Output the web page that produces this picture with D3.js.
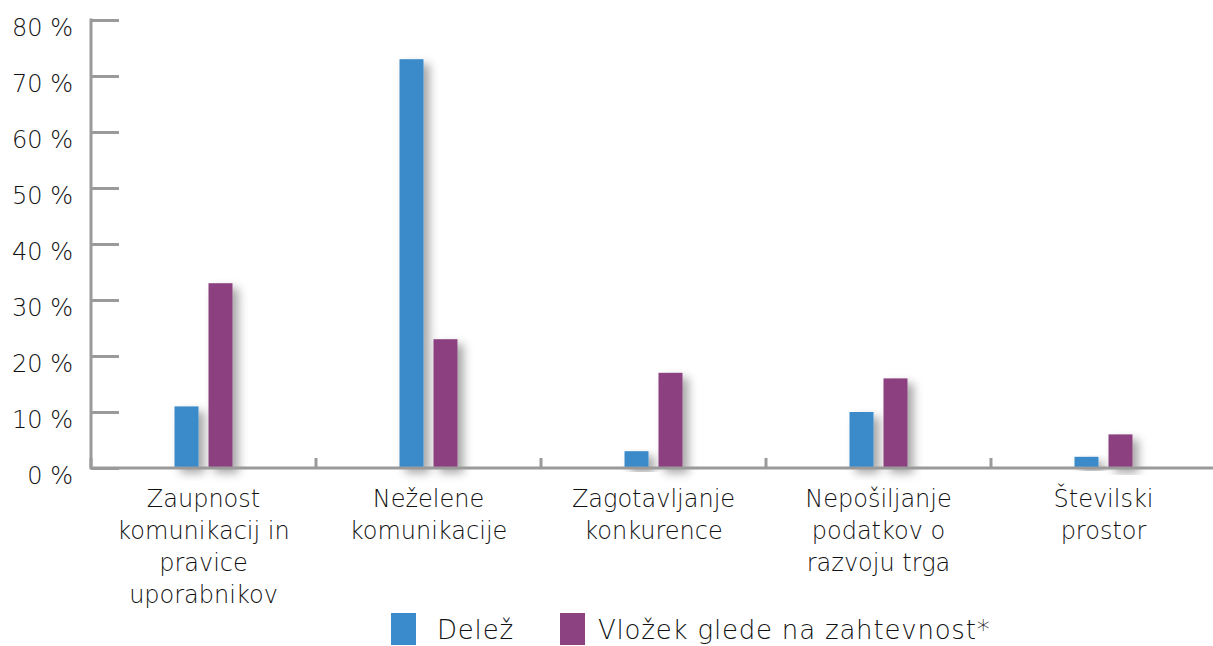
<!DOCTYPE html>
<html>
<head>
<meta charset="utf-8">
<script src="https://cdn.jsdelivr.net/npm/d3@7"></script>
<style>
  body { margin: 0; background: #fff; }
  text { font-family: "DejaVu Sans", Lato, sans-serif; font-weight: 200; fill: #111; }
</style>
</head>
<body>
<div id="chart"></div>
<script>
// data
var categories = [
  ["Zaupnost", "komunikacij in", "pravice", "uporabnikov"],
  ["Neželene", "komunikacije"],
  ["Zagotavljanje", "konkurence"],
  ["Nepošiljanje", "podatkov o", "razvoju trga"],
  ["Številski", "prostor"]
];
var seriesNames = ["Delež", "Vložek glede na zahtevnost*"];
var delez = [11, 73, 3, 10, 2];
var vlozek = [33, 23, 17, 16, 6];
var yTicks = [0, 10, 20, 30, 40, 50, 60, 70, 80];
var colors = ["#3a8bcb", "#8c4180"];

var W = 1213, H = 646;
var margin = {top: 20, right: 0, bottom: 178, left: 91};

var svg = d3.select("#chart").append("svg")
  .attr("width", W).attr("height", H);

var defs = svg.append("defs");
var f = defs.append("filter").attr("id", "shadow")
  .attr("x", "-50%").attr("y", "-10%").attr("width", "250%").attr("height", "130%");
f.append("feDropShadow").attr("dx", 6).attr("dy", 5)
  .attr("stdDeviation", 5).attr("flood-color", "#000").attr("flood-opacity", 0.35);

var x = d3.scaleBand()
  .domain(d3.range(categories.length))
  .range([margin.left, W - margin.right + 3]);

var y = d3.scaleLinear().domain([0, 80]).range([H - margin.bottom, margin.top]);

var g = svg.append("g");

// bars
var barW = 24, gap = 10;
var series = [delez, vlozek];
series.forEach(function(vals, si) {
  g.selectAll(".bar" + si)
    .data(vals)
    .enter().append("rect")
    .attr("x", (d, i) => x(i) + x.bandwidth() / 2 - gap / 2 - barW + si * (barW + gap))
    .attr("y", d => y(d))
    .attr("width", barW)
    .attr("height", d => y(0) - y(d))
    .attr("fill", colors[si])
    .attr("filter", "url(#shadow)");
});

// y axis
var yAxis = svg.append("g")
  .attr("transform", `translate(${margin.left},0)`)
  .call(d3.axisRight(y).tickValues(yTicks).tickSize(28).tickFormat(""));
yAxis.select(".domain").remove();
yAxis.selectAll("line").attr("stroke", "#9a9a9a").attr("stroke-width", 3);
svg.append("line")
  .attr("x1", margin.left).attr("x2", margin.left)
  .attr("y1", y(80) - 1.5).attr("y2", y(0) + 1.5)
  .attr("stroke", "#9a9a9a").attr("stroke-width", 3);

svg.selectAll(".ylab")
  .data(yTicks)
  .enter().append("text")
  .attr("x", 73)
  .attr("y", d => y(d) + 16)
  .attr("text-anchor", "end")
  .attr("font-size", 24)
  .text(d => d + " %");

// x axis
svg.append("line")
  .attr("x1", margin.left).attr("x2", W)
  .attr("y1", y(0)).attr("y2", y(0))
  .attr("stroke", "#9a9a9a").attr("stroke-width", 3);
svg.selectAll(".xtick")
  .data(d3.range(categories.length))
  .enter().append("line")
  .attr("x1", d => x(d)).attr("x2", d => x(d))
  .attr("y1", y(0) - 10).attr("y2", y(0))
  .attr("stroke", "#9a9a9a").attr("stroke-width", 3);

// category labels
categories.forEach(function(lines, i) {
  var t = svg.append("text")
    .attr("text-anchor", "middle")
    .attr("font-size", 24)
    .attr("x", x(i) + x.bandwidth() / 2)
    .attr("y", 507);
  lines.forEach(function(l, j) {
    t.append("tspan")
      .attr("x", x(i) + x.bandwidth() / 2)
      .attr("dy", j === 0 ? 0 : 32)
      .text(l);
  });
});

// legend
var legX = [391, 560], legT = [437, 598];
seriesNames.forEach(function(n, i) {
  svg.append("rect")
    .attr("x", legX[i]).attr("y", 613)
    .attr("width", 25).attr("height", 32)
    .attr("fill", colors[i]);
  svg.append("text")
    .attr("x", legT[i]).attr("y", 639)
    .attr("font-size", 26)
    .attr("letter-spacing", 0.8)
    .text(n);
});
</script>
</body>
</html>
